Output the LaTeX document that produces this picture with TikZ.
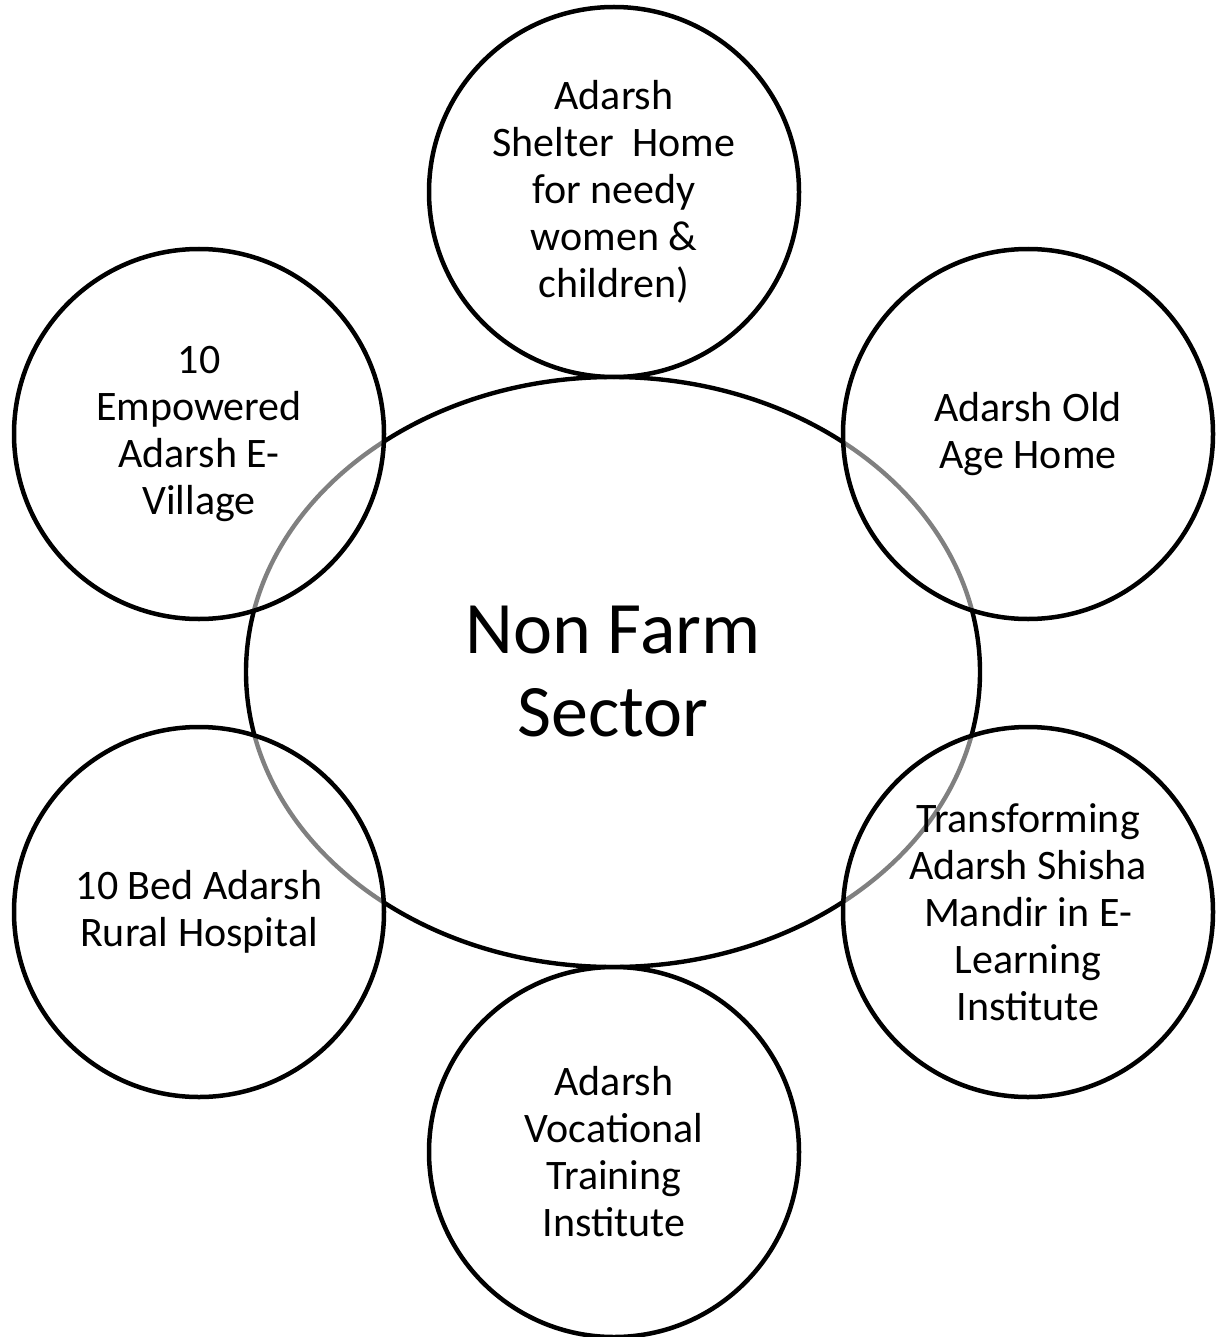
\documentclass[tikz,border=0pt]{standalone}
\usepackage{fontspec}
\setmainfont{Carlito}
\usetikzlibrary{shapes.geometric}

\tikzset{
  sectorbox/.style={draw=black, line width=2.2pt, ellipse, minimum width=367pt, minimum height=295pt,
    align=center, font=\fontsize{37}{41.5}\selectfont},
  unitbox/.style={draw=black, line width=2.25pt, circle, minimum size=185pt, inner sep=0pt,
    fill=white, fill opacity=0.5, text opacity=1, align=center, font=\fontsize{21}{23.5}\selectfont}
}

\begin{document}
\begin{tikzpicture}[x=0.5pt, y=-0.5pt]
    \useasboundingbox (0,0) rectangle (1220,1337);

    % Central sector
    \node[sectorbox] (nonfarm) at (613,672) {Non Farm\\Sector};

    % Units around the sector
    \node[unitbox] (shelter) at (614,192) {Adarsh\\Shelter\ \ Home\\for needy\\women \&\\children)};
    \node[unitbox] (oldage) at (1028,434) {Adarsh Old\\Age Home};
    \node[unitbox] (shisha) at (1028,912) {Transforming\\Adarsh Shisha\\Mandir in E-\\Learning\\Institute};
    \node[unitbox] (vocational) at (614,1152) {Adarsh\\Vocational\\Training\\Institute};
    \node[unitbox] (hospital) at (199,912) {10 Bed Adarsh\\Rural Hospital};
    \node[unitbox] (evillage) at (199,434) {10\\Empowered\\Adarsh E-\\Village};
\end{tikzpicture}
\end{document}
